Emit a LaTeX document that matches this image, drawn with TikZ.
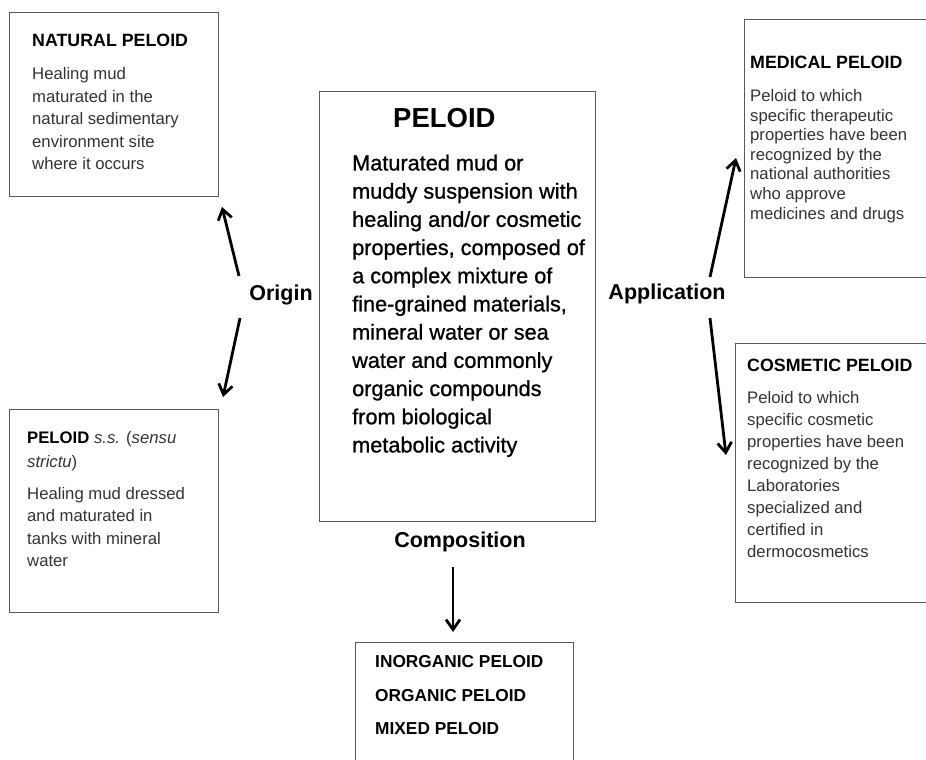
\documentclass[tikz,border=0pt]{standalone}
\usepackage{fontspec}
\setmainfont{Liberation Sans}
\newfontfamily\peloidfont{Liberation Sans}[FakeBold=0.9]
\usetikzlibrary{arrows.meta}

\begin{document}
\begin{tikzpicture}[x=1pt, y=-1pt,
  box/.style={draw=black!65, line width=1.4pt, inner sep=0, anchor=north west},
  info/.style={inner sep=0, anchor=north west, align=left, text=black!80, font=\fontsize{16.7}{22.5}\selectfont},
  boxtitle/.style={font=\bfseries\fontsize{17.8}{20}\selectfont},
  critlabel/.style={inner sep=0, font=\bfseries\fontsize{21.5}{24}\selectfont},
  arr/.style={-{Straight Barb[length=10pt,width=14pt]}, line width=2.8pt}]
\useasboundingbox (0,0) rectangle (926,760);
\clip (0,0) rectangle (926,760);

% boxes
\node[box, minimum width=209pt, minimum height=184pt] (natural) at (9,12) {};
\node[box, minimum width=209pt, minimum height=203pt] (sensu) at (9,409) {};
\node[box, minimum width=276pt, minimum height=430pt] (peloid) at (319,91) {};
\node[box, minimum width=200pt, minimum height=258pt] (medical) at (744,19) {};
\node[box, minimum width=200pt, minimum height=259pt] (cosmetic) at (735,343) {};
\node[box, minimum width=218pt, minimum height=140pt] (kinds) at (355,642) {};

% texts
\node[info] (naturaltxt) at (32,34) {\textcolor{black}{\bfseries\fontsize{17.8}{22.5}\selectfont NATURAL PELOID}\\[10.8pt]
  Healing mud\\ maturated in the\\ natural sedimentary\\ environment site\\ where it occurs};
\node[info] (sensutxt) at (27,430.7) {\textcolor{black}{\textbf{PELOID}} \textit{s.s.} (\textit{sensu}\\[1.5pt]
  \textit{strictu})\\[9.5pt]
  Healing mud dressed\\ and maturated in\\ tanks with mineral\\ water};
\node[inner sep=0, anchor=north west, font=\bfseries\fontsize{27.5}{30}\selectfont] (peloidtitle) at (393,108.3) {PELOID};
\node[inner sep=0, anchor=north west, align=left, font=\peloidfont\fontsize{21.7}{28.2}\selectfont] (peloidtxt) at (352,154.5) {%
  Maturated mud or\\ muddy suspension with\\ healing and/or cosmetic\\ properties, composed of\\
  a complex mixture of\\ fine-grained materials,\\ mineral water or sea\\ water and commonly\\
  organic compounds\\ from biological\\ metabolic activity};
\node[info, font=\fontsize{16.7}{19.6}\selectfont] (medicaltxt) at (750,55.5) {\textcolor{black}{\bfseries\fontsize{17.8}{19.6}\selectfont MEDICAL PELOID}\\[13.8pt]
  Peloid to which\\ specific therapeutic\\ properties have been\\ recognized by the\\
  national authorities\\ who approve\\ medicines and drugs};
\node[info, font=\fontsize{16.7}{22}\selectfont] (cosmetictxt) at (747,359.2) {\textcolor{black}{\bfseries\fontsize{17.8}{22}\selectfont COSMETIC PELOID}\\[10pt]
  Peloid to which\\ specific cosmetic\\ properties have been\\ recognized by the\\
  Laboratories\\ specialized and\\ certified in\\ dermocosmetics};
\node[inner sep=0, anchor=north west, align=left, font=\bfseries\fontsize{17.3}{33.5}\selectfont] (kindstxt) at (375,655.6) {%
  INORGANIC PELOID\\ ORGANIC PELOID\\ MIXED PELOID};

% criteria
\node[critlabel] (origin) at (281,295) {Origin};
\node[critlabel] (application) at (667,294) {Application};
\node[critlabel] (composition) at (460,542) {Composition};

\coordinate (o1) at (239,276);
\coordinate (o1t) at (222,207);
\coordinate (o2) at (240,318);
\coordinate (o2t) at (223,397);
\coordinate (a1) at (710,277);
\coordinate (a1t) at (736,158);
\coordinate (a2) at (710,318);
\coordinate (a2t) at (726,455);
\coordinate (c1) at (453,567);
\coordinate (c1t) at (453,632);

\draw[arr] (o1) -- (o1t);
\draw[arr] (o2) -- (o2t);
\draw[arr] (a1) -- (a1t);
\draw[arr] (a2) -- (a2t);
\draw[arr] (c1) -- (c1t);
\end{tikzpicture}
\end{document}
